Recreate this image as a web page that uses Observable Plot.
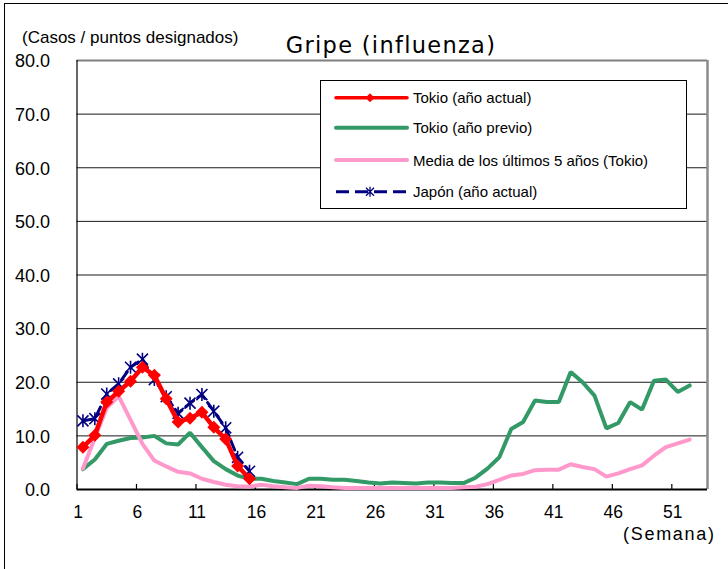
<!DOCTYPE html>
<html><head><meta charset="utf-8">
<script src="https://cdn.jsdelivr.net/npm/d3@7"></script>
<script src="https://cdn.jsdelivr.net/npm/@observablehq/plot@0.6"></script>
<style>
html,body{margin:0;padding:0;background:#fff;}
#chart{width:728px;height:569px;overflow:hidden;}
</style></head><body><div id="chart"></div>
<script>
// ---- data ----
const weekTickLabels = [1, 6, 11, 16, 21, 26, 31, 36, 41, 46, 51];
const yTickValues = [0, 10, 20, 30, 40, 50, 60, 70, 80];
const seriesNames = ["Tokio (año actual)", "Tokio (año previo)", "Media de los últimos 5 años (Tokio)", "Japón (año actual)"];
// weekly values, week 1 first
const tokyoCurrent = [7.9, 10.1, 16.3, 18.3, 20.2, 22.8, 21.3, 16.9, 12.6, 13.3, 14.4, 11.6, 9.4, 4.4, 2.0];
const tokyoPrevious = [3.8, 5.6, 8.5, 9.1, 9.6, 9.7, 10.0, 8.6, 8.4, 10.6, 7.9, 5.3, 3.8, 2.6, 2.0, 2.0, 1.6, 1.3, 1.0, 2.0,
  2.0, 1.8, 1.8, 1.6, 1.3, 1.1, 1.3, 1.2, 1.1, 1.3, 1.3, 1.2, 1.2, 2.2, 3.9, 6.0, 11.3, 12.6, 16.6, 16.3,
  16.3, 21.9, 20.0, 17.5, 11.4, 12.4, 16.3, 14.9, 20.3, 20.5, 18.2, 19.4];
const tokyoAvg5y = [3.9, 9.6, 15.2, 17.4, 13.0, 8.5, 5.4, 4.3, 3.3, 3.0, 2.0, 1.4, 0.9, 0.6, 0.5, 0.9, 0.6, 0.4, 0.3, 0.7,
  0.6, 0.4, 0.3, 0.3, 0.3, 0.3, 0.3, 0.3, 0.3, 0.3, 0.3, 0.3, 0.4, 0.5, 1.0, 1.8, 2.6, 2.9, 3.6, 3.7,
  3.7, 4.7, 4.2, 3.8, 2.4, 3.0, 3.8, 4.5, 6.3, 7.9, 8.6, 9.3];
const japanCurrent = [12.8, 13.2, 17.8, 19.7, 22.8, 24.3, 20.5, 17.3, 14.2, 16.1, 17.7, 14.6, 11.5, 6.0, 3.4];

const colors = ["#ff0000", "#339966", "#ff99cc", "#000080"];

const toRows = (vals) => vals.map((v, i) => ({week: i + 1, value: v}));
const rowsRed = toRows(tokyoCurrent);
const rowsGreen = toRows(tokyoPrevious);
const rowsPink = toRows(tokyoAvg5y);
const rowsNavy = toRows(japanCurrent);

// custom symbols
const diamondSym = {draw(ctx, size) {
  const r = Math.sqrt(size / Math.PI);
  ctx.moveTo(0, -r); ctx.lineTo(r, 0); ctx.lineTo(0, r); ctx.lineTo(-r, 0); ctx.closePath();
}};
const starSym = {draw(ctx, size) {
  const r = Math.sqrt(size / Math.PI);
  const a = r * 0.85;
  ctx.moveTo(-a, -a); ctx.lineTo(a, a);
  ctx.moveTo(-a, a); ctx.lineTo(a, -a);
  ctx.moveTo(0, -r); ctx.lineTo(0, r);
}};

const font = "'Liberation Sans', Arial, sans-serif";

const chart = Plot.plot({
  width: 728, height: 569,
  marginLeft: 76.5, marginRight: 21, marginTop: 60, marginBottom: 80,
  x: {domain: [0.5, 53.5], axis: null},
  y: {domain: [0, 80], axis: null},
  style: {fontFamily: font, background: "white", color: "black"},
  marks: [
    Plot.ruleY(yTickValues.filter(d => d > 0 && d < 80), {stroke: "#000", strokeWidth: 1, strokeOpacity: 0.9}),
    Plot.ruleY([80], {stroke: "#7f7f7f", strokeWidth: 2}),
    Plot.ruleX([53.5], {stroke: "#8c8c8c", strokeWidth: 2.5}),
    Plot.ruleX([0.5], {stroke: "#000", strokeWidth: 1.2}),
    Plot.ruleY([0], {stroke: "#000", strokeWidth: 2}),
    Plot.ruleX(weekTickLabels, {x: d => d - 0.5, y1: 0, y2: 0.95, stroke: "#000", strokeWidth: 1.2}),
    Plot.text(weekTickLabels, {x: d => d - 0.5, y: 0, text: d => String(d), dy: 23, dx: 1, fontSize: 17.5, fill: "#000"}),
    Plot.text(yTickValues, {x: 0.5, y: d => d, text: d => d.toFixed(1), textAnchor: "end", dx: -27, dy: 1, fontSize: 18, fill: "#000"}),
    Plot.line(rowsGreen, {x: "week", y: "value", stroke: colors[1], strokeWidth: 4, strokeLinejoin: "miter"}),
    Plot.line(rowsPink, {x: "week", y: "value", stroke: colors[2], strokeWidth: 4, strokeLinejoin: "miter"}),
    Plot.line(rowsNavy, {x: "week", y: "value", stroke: colors[3], strokeWidth: 3, strokeDasharray: "10,5"}),
    Plot.dot(rowsNavy, {x: "week", y: "value", symbol: starSym, r: 6.5, stroke: colors[3], fill: "none", strokeWidth: 1.6}),
    Plot.line(rowsRed, {x: "week", y: "value", stroke: colors[0], strokeWidth: 4.5}),
    Plot.dot(rowsRed, {x: "week", y: "value", symbol: diamondSym, r: 6.5, fill: colors[0], stroke: "none"})
  ]
});

const svg = d3.select(chart);
// outer chart border
svg.append("rect").attr("x", 4.5).attr("y", 3.5).attr("width", 740).attr("height", 580)
  .attr("fill", "none").attr("stroke", "#000").attr("stroke-width", 1);
// y title
svg.append("text").attr("x", 22).attr("y", 43).attr("text-anchor", "start").attr("font-family", font).attr("font-size", 17)
  .attr("fill", "#000").text("(Casos / puntos designados)");
// main title
svg.append("text").attr("x", 391).attr("y", 53).attr("text-anchor", "middle")
  .attr("font-family", "'DejaVu Sans', Verdana, sans-serif").attr("font-size", 22.5).attr("letter-spacing", 1.3)
  .attr("fill", "#000").text("Gripe (influenza)");
// x unit
svg.append("text").attr("x", 623).attr("y", 540).attr("text-anchor", "start")
  .attr("font-family", font).attr("font-size", 18).attr("textLength", 91).attr("lengthAdjust", "spacing")
  .attr("fill", "#000").text("(Semana)");

// legend
const lg = svg.append("g");
lg.append("rect").attr("x", 320.5).attr("y", 80.5).attr("width", 366).attr("height", 128)
  .attr("fill", "#fff").attr("stroke", "#000").attr("stroke-width", 1);
const legendY = [97.7, 127.7, 160, 191.7];
const legendStyle = [
  {w: 3.5, dash: null}, {w: 4, dash: null}, {w: 4, dash: null}, {w: 3, dash: "13,6"}
];
seriesNames.forEach((name, i) => {
  const y = legendY[i];
  lg.append("line").attr("x1", 336).attr("x2", 407).attr("y1", y).attr("y2", y)
    .attr("stroke", colors[i]).attr("stroke-width", legendStyle[i].w)
    .attr("stroke-linecap", legendStyle[i].dash ? "butt" : "round")
    .attr("stroke-dasharray", legendStyle[i].dash);
  if (i === 0) {
    lg.append("path").attr("d", `M370,${y-4.5}L374.5,${y}L370,${y+4.5}L365.5,${y}Z`).attr("fill", colors[0]);
  }
  if (i === 3) {
    const a = 4;
    lg.append("path").attr("d", `M${370-a},${y-a}L${370+a},${y+a}M${370-a},${y+a}L${370+a},${y-a}M370,${y-5}L370,${y+5}`)
      .attr("stroke", colors[3]).attr("stroke-width", 1.3).attr("fill", "none");
  }
  lg.append("text").attr("x", 413).attr("y", y + 5.5).attr("text-anchor", "start").attr("font-family", font).attr("font-size", 15)
    .attr("fill", "#000").text(name);
});

document.getElementById("chart").appendChild(chart);
</script>
</body></html>
